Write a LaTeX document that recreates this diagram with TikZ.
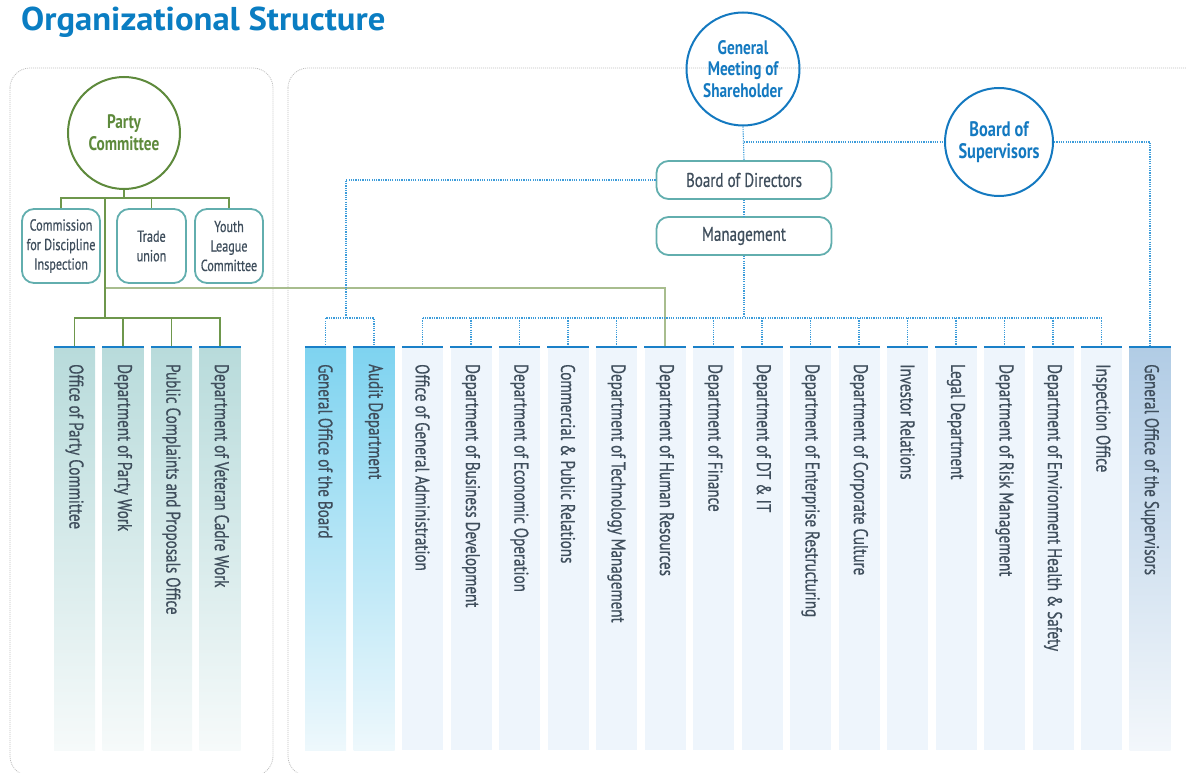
\documentclass[tikz,border=0pt]{standalone}
\usepackage{fontspec}
\setmainfont{PT Sans}
\newfontfamily\cf[FakeStretch=0.76,FakeBold=0.6]{PT Sans}
\newfontfamily\cb[FakeStretch=0.78]{PT Sans}
\newfontfamily\tf[FakeStretch=1.05]{PT Sans}
\usetikzlibrary{calc}
\definecolor{ttl}{HTML}{0A7DC2}
\definecolor{txt}{HTML}{3F4E5C}
\definecolor{cblue}{HTML}{1479C0}
\definecolor{dblue}{HTML}{3C9CDA}
\definecolor{teal1}{HTML}{62AEAE}
\definecolor{gcol}{HTML}{5E8A3C}
\definecolor{gline}{HTML}{6E974C}
\definecolor{gline2}{HTML}{A8BD8E}
\definecolor{topblue}{HTML}{1A80C8}
\definecolor{panelgray}{HTML}{BDBDBD}
\definecolor{pA1}{HTML}{B8DBDB}
\definecolor{pA2}{HTML}{F6FAFA}
\definecolor{bA1}{HTML}{7ED3F0}
\definecolor{bA2}{HTML}{EEF8FC}
\definecolor{mA}{HTML}{EEF5FC}
\definecolor{sA1}{HTML}{B1CCE5}
\definecolor{sA2}{HTML}{F3F7FB}
\tikzset{
  dept/.style={draw=none, minimum width=41pt, minimum height=403pt, anchor=north, inner sep=0pt},
  pshade/.style={top color=pA1, bottom color=pA2},
  bshade/.style={top color=bA1, bottom color=bA2},
  mshade/.style={fill=mA},
  sshade/.style={top color=sA1, bottom color=sA2},
  deptxt/.style={rotate=-90, anchor=west, inner sep=0pt, text=txt, font=\cf\fontsize{19.8}{19.8}\selectfont},
  topln/.style={draw=topblue, line width=2.4pt},
  rbox/.style={draw=teal1, line width=1.8pt, rounded corners=12pt, text=txt, align=center, inner sep=0pt},
  bcirc/.style={circle, draw=cblue, line width=2pt, text=cblue, align=center, inner sep=0pt},
  gcirc/.style={circle, draw=gcol, line width=2pt, text=gcol, align=center, inner sep=0pt, font=\cb\bfseries\fontsize{19.6}{22}\selectfont},
  dotln/.style={draw=dblue, line width=1.1pt, dash pattern=on 1.2pt off 1.1pt},
  gl/.style={draw=gline, line width=1.4pt},
  gl2/.style={draw=gline2, line width=1.6pt},
  panel/.style={draw=panelgray, line width=0.8pt, dash pattern=on 1pt off 1pt, rounded corners=20pt}
}
\begin{document}
\begin{tikzpicture}[x=1pt,y=-1pt]
\useasboundingbox (0,0) rectangle (1186,773);
\clip (0,0) rectangle (1186,773);
% title
\node[anchor=west, inner sep=0pt, text=ttl, font=\tf\bfseries\fontsize{33}{33}\selectfont] (title) at (21,22) {Organizational Structure};
% panels
\draw[panel] (10,68) rectangle (273,776);
\draw[panel] (288,68) rectangle (1210,776);
% party columns
\foreach \i/\t in {1/Office of Party Committee, 2/Department of Party Work, 3/Public Complaints and Proposals Office, 4/Department of Veteran Cadre Work}{
  \node[dept, pshade] (p\i) at ({74.5+48.5*(\i-1)},347) {};
  \node[deptxt] at ($(p\i.north)+(0,17)$) {\t};
}
% right columns
\foreach \i/\s/\t in {1/bshade/General Office of the Board, 2/bshade/Audit Department, 3/mshade/Office of General Administration, 4/mshade/Department of Business Development, 5/mshade/Department of Economic Operation, 6/mshade/Commercial \& Public Relations, 7/mshade/Department of Technology Management, 8/mshade/Department of Human Resources, 9/mshade/Department of Finance, 10/mshade/Department of DT \& IT, 11/mshade/Department of Enterprise Restructuring, 12/mshade/Department of Corporate Culture, 13/mshade/Investor Relations, 14/mshade/Legal Department, 15/mshade/Department of Risk Management, 16/mshade/Department of Environment Health \& Safety, 17/mshade/Inspection Office, 18/sshade/General Office of the Supervisors}{
  \node[dept, \s] (d\i) at ({325.5+48.5*(\i-1)},347) {};
  \node[deptxt] at ($(d\i.north)+(0,17)$) {\t};
}
% party committee part
\node[gcirc, minimum size=112pt] (pc) at (124,133) {Party\\Committee};
\node[rbox, minimum width=78pt, minimum height=74pt, font=\cf\fontsize{16}{19.5}\selectfont] (cdi) at (61,246) {Commission\\for Discipline\\Inspection};
\node[rbox, minimum width=69pt, minimum height=74pt, font=\cf\fontsize{16}{19.5}\selectfont] (tu) at (151.5,246) {Trade\\union};
\node[rbox, minimum width=68pt, minimum height=74pt, font=\cf\fontsize{16}{19.5}\selectfont] (yl) at (229,246) {Youth\\League\\Committee};
\coordinate (pj) at (124,198);
\coordinate (pv) at (105,198);
\coordinate (pb) at (105,318);
\coordinate (ph) at (105,288);
\draw[gl2] (ph) -- (ph -| d8.north) -- (d8.north);
\draw[gl] (pc.south) -- (pj);
\draw[gl] (cdi.north) -- (cdi.north |- pj) -- (yl.north |- pj) -- (yl.north);
\draw[gl] (tu.north) -- (tu.north |- pj);
\draw[gl] (pv) -- (pb);
\draw[gl] (p1.north) -- (p1.north |- pb) -- (p4.north |- pb) -- (p4.north);
\draw[gl] (p2.north) -- (p2.north |- pb);
\draw[gl] (p3.north) -- (p3.north |- pb);
% corporate part
\node[bcirc, minimum size=113pt, font=\cb\bfseries\fontsize{19.6}{21.5}\selectfont] (gm) at (743,69) {General\\Meeting of\\Shareholder};
\node[bcirc, minimum size=108pt, font=\cb\bfseries\fontsize{21}{22.5}\selectfont] (bs) at (999,142) {Board of\\Supervisors};
\node[rbox, minimum width=175pt, minimum height=38pt, font=\cf\fontsize{19.8}{19.8}\selectfont] (bd) at (744,180) {Board of Directors};
\node[rbox, minimum width=175pt, minimum height=38pt, font=\cf\fontsize{19.8}{19.8}\selectfont] (mg) at (744,236) {Management};
\coordinate (mb) at (744,318);
\coordinate (sj) at (744,142);
\coordinate (bl) at (346,180);
\draw[dotln] (gm.south) -- (bd.north);
\draw[dotln] (bd.south) -- (mg.north);
\draw[dotln] (mg.south) -- (mb);
\draw[dotln] (d3.north |- mb) -- (d17.north |- mb);
\foreach \i in {3,4,5,6,7,9,10,11,12,13,14,15,16,17}{
  \draw[dotln] (d\i.north |- mb) -- (d\i.north);
}
\draw[dotln] (sj) -- (bs.west);
\draw[dotln] (bs.east) -- (bs.east -| d18.north) -- (d18.north);
\draw[dotln] (bd.west) -- (bl) -- (bl |- mb);
\draw[dotln] (d1.north) -- (d1.north |- mb) -- (d2.north |- mb) -- (d2.north);
% top lines of columns
\foreach \i in {1,2,3,4}{\draw[topln] (p\i.north west) -- (p\i.north east);}
\foreach \i in {1,...,18}{\draw[topln] (d\i.north west) -- (d\i.north east);}
\end{tikzpicture}
\end{document}
